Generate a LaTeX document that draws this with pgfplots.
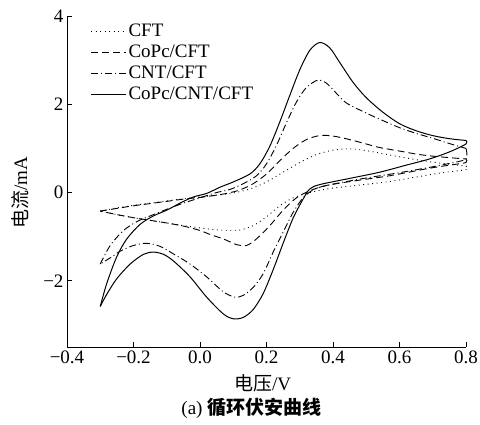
\documentclass[border=0pt]{standalone}
\usepackage{fontspec}
\setmainfont{Liberation Serif}
\newfontfamily\cjk{Noto Sans CJK SC}
\usepackage{pgfplots}
\pgfplotsset{compat=1.18}
\begin{document}
\begin{tikzpicture}
\begin{axis}[
  scale only axis,
  width=399pt, height=331pt,
  xmin=-0.4, xmax=0.8, ymin=-3.5, ymax=4,
  axis lines=left,
  axis line style={-, line width=0.8pt},
  tick align=inside,
  major tick length=5pt,
  tick style={line width=0.8pt, black},
  xtick={-0.4,-0.2,0,0.2,0.4,0.6,0.8},
  xticklabels={−0.4,−0.2,0.0,0.2,0.4,0.6,0.8},
  ytick={-2,0,2,4},
  yticklabels={−2,0,2,4},
  ticklabel style={font=\fontsize{19}{21}\selectfont},
  xlabel={{\cjk 电压}/V},
  ylabel={{\cjk 电流}/mA},
  label style={font=\fontsize{19}{21}\selectfont},
  xlabel style={at={(axis description cs:0.49,-0.109)}, anchor=center},
  ylabel style={at={(axis description cs:-0.118,0.465)}, anchor=center},
  legend style={draw=none, fill=none, at={(axis description cs:0.056,0.985)}, anchor=north west,
    font=\fontsize{19}{21}\selectfont, row sep=3pt, inner sep=1pt},
  legend cell align=left,
  legend image code/.code={\draw[#1] (0pt,0pt) -- (35pt,0pt);},
  clip=false,
]
% CFT (dotted)
\addplot[black, line width=0.9pt, dash pattern=on 0.9pt off 3.6pt, smooth, tension=0.5] coordinates {
(-0.30,-0.42) (-0.25,-0.35) (-0.20,-0.29) (-0.15,-0.24) (-0.10,-0.19) (-0.05,-0.14) (0.00,-0.10) (0.05,-0.06) (0.10,-0.01) (0.15,0.08) (0.20,0.24) (0.25,0.46) (0.30,0.68) (0.35,0.86) (0.40,0.96) (0.45,0.99) (0.50,0.95) (0.55,0.88) (0.60,0.81) (0.67,0.72) (0.73,0.66) (0.80,0.60)
};
\addlegendentry{CFT}
\addplot[black, line width=0.9pt, dash pattern=on 0.9pt off 3.6pt, smooth, tension=0.5, forget plot] coordinates {
(0.80,0.60) (0.80,0.52) (0.72,0.44) (0.65,0.35) (0.57,0.25) (0.47,0.16) (0.39,0.09) (0.33,0.0) (0.28,-0.12) (0.24,-0.30) (0.20,-0.55) (0.16,-0.75) (0.12,-0.85) (0.08,-0.86) (0.04,-0.84) (0.00,-0.80) (-0.05,-0.75) (-0.10,-0.69) (-0.15,-0.63) (-0.20,-0.57) (-0.25,-0.50) (-0.30,-0.42)
};
% CoPc/CFT (dashed)
\addplot[black, line width=0.9pt, dash pattern=on 7pt off 4pt, smooth, tension=0.5] coordinates {
(-0.30,-0.42) (-0.25,-0.36) (-0.20,-0.30) (-0.15,-0.25) (-0.10,-0.20) (-0.05,-0.15) (0.00,-0.11) (0.04,-0.07) (0.08,-0.02) (0.12,0.06) (0.16,0.20) (0.20,0.42) (0.24,0.72) (0.28,1.00) (0.32,1.20) (0.36,1.29) (0.40,1.28) (0.45,1.20) (0.50,1.10) (0.54,1.02) (0.60,0.94) (0.66,0.86) (0.72,0.81) (0.80,0.76)
};
\addlegendentry{CoPc/CFT}
\addplot[black, line width=0.9pt, dash pattern=on 7pt off 4pt, smooth, tension=0.5, forget plot] coordinates {
(0.80,0.76) (0.80,0.68) (0.75,0.62) (0.69,0.55) (0.57,0.38) (0.47,0.27) (0.38,0.16) (0.33,0.04) (0.29,-0.12) (0.25,-0.40) (0.21,-0.75) (0.17,-1.05) (0.14,-1.20) (0.11,-1.18) (0.07,-1.05) (0.03,-0.95) (0.00,-0.86) (-0.05,-0.76) (-0.10,-0.69) (-0.15,-0.63) (-0.20,-0.57) (-0.25,-0.50) (-0.30,-0.42)
};
% CNT/CFT (dash-dot)
\addplot[black, line width=0.9pt, dash pattern=on 7pt off 3pt on 1pt off 3pt, smooth, tension=0.5] coordinates {
(-0.30,-1.62) (-0.27,-1.20) (-0.23,-0.86) (-0.19,-0.66) (-0.15,-0.53) (-0.10,-0.38) (-0.05,-0.24) (0.00,-0.12) (0.05,0.00) (0.09,0.07) (0.13,0.20) (0.17,0.38) (0.20,0.65) (0.23,1.07) (0.26,1.58) (0.29,2.05) (0.32,2.38) (0.355,2.55) (0.38,2.48) (0.41,2.25) (0.44,2.03) (0.50,1.80) (0.55,1.63) (0.60,1.47) (0.65,1.34) (0.70,1.23) (0.75,1.11) (0.80,1.00)
};
\addlegendentry{CNT/CFT}
\addplot[black, line width=0.9pt, dash pattern=on 7pt off 3pt on 1pt off 3pt, smooth, tension=0.5, forget plot] coordinates {
(0.80,1.00) (0.80,0.76) (0.75,0.66) (0.69,0.57) (0.60,0.45) (0.50,0.33) (0.42,0.22) (0.37,0.14) (0.34,0.06) (0.31,-0.12) (0.28,-0.45) (0.25,-0.90) (0.22,-1.35) (0.19,-1.84) (0.16,-2.15) (0.13,-2.33) (0.105,-2.37) (0.07,-2.25) (0.02,-1.91) (-0.03,-1.62) (-0.08,-1.39) (-0.12,-1.22) (-0.16,-1.15) (-0.20,-1.20) (-0.24,-1.33) (-0.27,-1.48) (-0.30,-1.62)
};
% CoPc/CNT/CFT (solid)
\addplot[black, line width=1pt, solid, smooth, tension=0.5] coordinates {
(-0.30,-2.58) (-0.28,-2.05) (-0.25,-1.45) (-0.22,-1.05) (-0.18,-0.72) (-0.14,-0.53) (-0.10,-0.40) (-0.06,-0.24) (-0.02,-0.10) (0.02,-0.02) (0.06,0.12) (0.10,0.24) (0.15,0.42) (0.18,0.65) (0.21,1.05) (0.24,1.60) (0.27,2.20) (0.30,2.78) (0.33,3.22) (0.36,3.40) (0.39,3.28) (0.42,2.95) (0.46,2.50) (0.50,2.15) (0.55,1.82) (0.60,1.56) (0.65,1.40) (0.70,1.29) (0.75,1.22) (0.80,1.18)
};
\addlegendentry{CoPc/CNT/CFT}
\addplot[black, line width=1pt, solid, smooth, tension=0.5, forget plot] coordinates {
(0.80,1.18) (0.80,1.10) (0.75,0.92) (0.69,0.76) (0.62,0.62) (0.54,0.46) (0.45,0.32) (0.36,0.18) (0.33,0.08) (0.31,-0.15) (0.28,-0.58) (0.25,-1.15) (0.22,-1.75) (0.19,-2.29) (0.16,-2.65) (0.13,-2.83) (0.10,-2.86) (0.07,-2.75) (0.02,-2.37) (-0.03,-1.91) (-0.08,-1.55) (-0.11,-1.40) (-0.14,-1.35) (-0.17,-1.40) (-0.21,-1.62) (-0.25,-1.95) (-0.28,-2.30) (-0.30,-2.58)
};
\node[font=\fontsize{19}{21}\selectfont, anchor=center] at (axis description cs:0.462,-0.184) {(a) {\cjk\bfseries 循环伏安曲线}};
\end{axis}
\pgfresetboundingbox
\useasboundingbox (-67pt,-78pt) rectangle (413pt,347pt);
\end{tikzpicture}
\end{document}
